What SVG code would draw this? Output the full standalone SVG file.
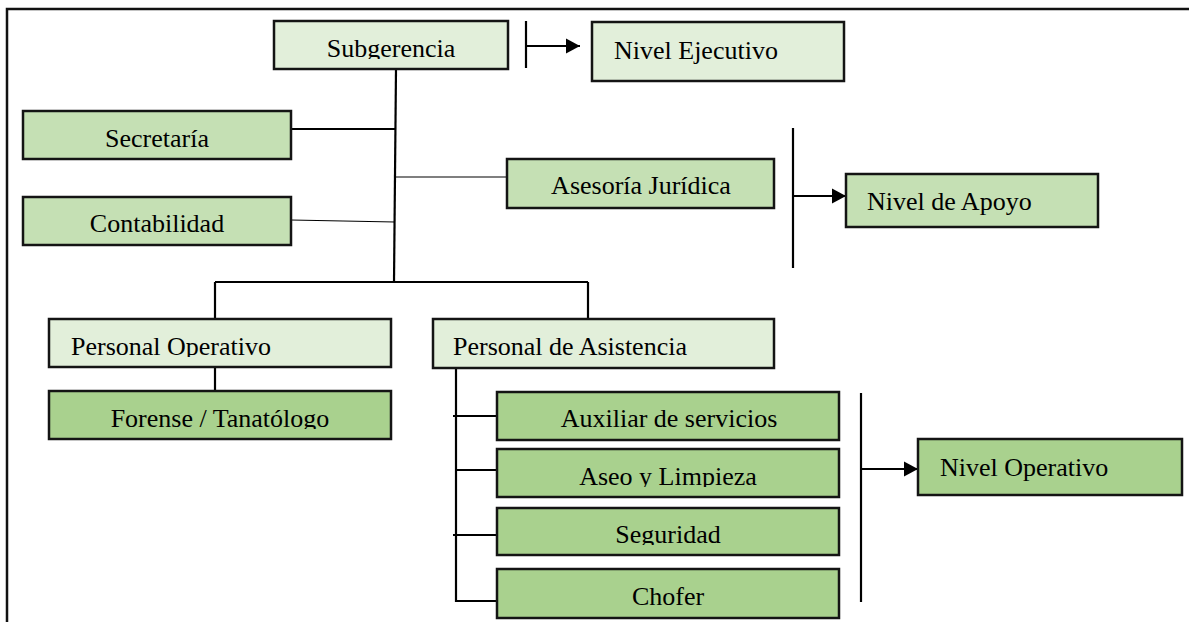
<svg xmlns="http://www.w3.org/2000/svg" width="1189" height="622" viewBox="0 0 1189 622">
  <style>
    .box { stroke: #141414; stroke-width: 2.5; }
    .l1 { fill: #e2efda; }
    .l2 { fill: #c5e0b4; }
    .l3 { fill: #a9d18e; }
    .t { font-family: "Liberation Serif", "Times New Roman", serif; font-size: 26px; fill: #000; }
    .c { text-anchor: middle; }
    .thick { stroke: #000; stroke-width: 2.2; fill: none; }
    .thin { stroke: #000; stroke-width: 1.1; fill: none; }
    .frame { stroke: #111; stroke-width: 2.5; fill: none; }
  </style>
  <defs>
    <marker id="arrow" markerUnits="userSpaceOnUse" markerWidth="16" markerHeight="16" refX="14" refY="8" orient="auto">
      <path d="M0,0.5 L14,8 L0,15.5 Z" fill="#000"/>
    </marker>
    <clipPath id="clipSub" clipPathUnits="userSpaceOnUse"><rect x="274" y="21" width="234" height="38"/></clipPath>
    <clipPath id="clipPO" clipPathUnits="userSpaceOnUse"><rect x="49" y="319" width="342" height="38"/></clipPath>
    <clipPath id="clipFor" clipPathUnits="userSpaceOnUse"><rect x="49" y="391" width="342" height="38"/></clipPath>
    <clipPath id="clipAseo" clipPathUnits="userSpaceOnUse"><rect x="497" y="449" width="342" height="38"/></clipPath>
    <clipPath id="clipSeg" clipPathUnits="userSpaceOnUse"><rect x="497" y="508" width="342" height="37"/></clipPath>
  </defs>

  <rect width="1189" height="622" fill="#fff"/>
  <!-- page frame (top and left edges) -->
  <path class="frame" d="M7,622 L7,9 L1189,9"/>

  <!-- connectors -->
  <g id="connectors">
    <path class="thick" d="M396,69 L394,282"/>
    <path class="thick" d="M291,129 L395,129"/>
    <path class="thin" d="M291,220 L395,222"/>
    <path class="thin" d="M396,177 L507,177"/>
    <path class="thick" d="M215,282 L588,282"/>
    <path class="thick" d="M215,282 L215,319"/>
    <path class="thick" d="M588,282 L588,319"/>
    <path class="thick" d="M215,367 L215,391"/>
    <path class="thick" d="M456,368 L456,602"/>
    <path class="thick" d="M453,416 L497,416"/>
    <path class="thick" d="M455,470 L497,470"/>
    <path class="thick" d="M453,535 L497,535"/>
    <path class="thick" d="M455,601 L497,601"/>
    <!-- level brackets -->
    <path class="thick" d="M526,21 L526,68"/>
    <path class="thick" d="M526,46 L580,46" marker-end="url(#arrow)"/>
    <path class="thick" d="M793,128 L793,268"/>
    <path class="thick" d="M793,196 L846,196" marker-end="url(#arrow)"/>
    <path class="thick" d="M861,393 L861,602"/>
    <path class="thick" d="M861,469 L918,469" marker-end="url(#arrow)"/>
  </g>

  <g id="subgerencia">
    <rect class="box l1" x="274" y="21" width="234" height="48"/>
    <text class="t c" x="391" y="57" clip-path="url(#clipSub)">Subgerencia</text>
  </g>
  <g id="nivel-ejecutivo">
    <rect class="box l1" x="592" y="22" width="252" height="59"/>
    <text class="t" x="614" y="59">Nivel Ejecutivo</text>
  </g>
  <g id="secretaria">
    <rect class="box l2" x="23" y="111" width="268" height="48"/>
    <text class="t c" x="157" y="147">Secretaría</text>
  </g>
  <g id="contabilidad">
    <rect class="box l2" x="23" y="197" width="268" height="48"/>
    <text class="t c" x="157" y="232">Contabilidad</text>
  </g>
  <g id="asesoria-juridica">
    <rect class="box l2" x="507" y="159" width="267" height="49"/>
    <text class="t c" x="641" y="194">Asesoría Jurídica</text>
  </g>
  <g id="nivel-apoyo">
    <rect class="box l2" x="846" y="174" width="252" height="53"/>
    <text class="t" x="867" y="210">Nivel de Apoyo</text>
  </g>
  <g id="personal-operativo">
    <rect class="box l1" x="49" y="319" width="342" height="48"/>
    <text class="t" x="71" y="355" clip-path="url(#clipPO)">Personal Operativo</text>
  </g>
  <g id="personal-asistencia">
    <rect class="box l1" x="433" y="319" width="341" height="49"/>
    <text class="t" x="453" y="355">Personal de Asistencia</text>
  </g>
  <g id="forense">
    <rect class="box l3" x="49" y="391" width="342" height="48"/>
    <text class="t c" x="220" y="427" clip-path="url(#clipFor)">Forense / Tanatólogo</text>
  </g>
  <g id="auxiliar">
    <rect class="box l3" x="497" y="392" width="342" height="48"/>
    <text class="t c" x="669" y="427">Auxiliar de servicios</text>
  </g>
  <g id="aseo">
    <rect class="box l3" x="497" y="449" width="342" height="48"/>
    <text class="t c" x="668" y="485" clip-path="url(#clipAseo)">Aseo y Limpieza</text>
  </g>
  <g id="seguridad">
    <rect class="box l3" x="497" y="508" width="342" height="47"/>
    <text class="t c" x="668" y="543" clip-path="url(#clipSeg)">Seguridad</text>
  </g>
  <g id="chofer">
    <rect class="box l3" x="497" y="569" width="342" height="49"/>
    <text class="t c" x="668" y="605">Chofer</text>
  </g>
  <g id="nivel-operativo">
    <rect class="box l3" x="918" y="439" width="264" height="56"/>
    <text class="t" x="940" y="476">Nivel Operativo</text>
  </g>
</svg>
